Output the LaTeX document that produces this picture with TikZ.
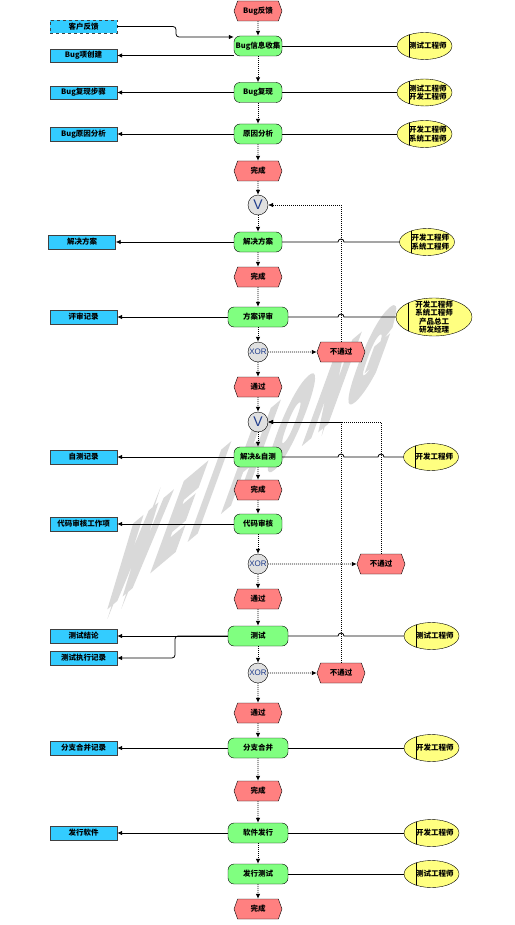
\documentclass[tikz,border=0pt]{standalone}
\usepackage{fontspec}
\setmainfont{Noto Sans CJK SC}
\newfontfamily\lat{Liberation Sans}
\newfontfamily\wmfont[FakeBold=13]{Liberation Sans Bold}
\usetikzlibrary{shapes.geometric,shapes.symbols,arrows.meta,calc}

\definecolor{ereignisrot}{HTML}{FF8080}
\definecolor{funktionsgruen}{HTML}{80FF80}
\definecolor{dokublau}{HTML}{33CCFF}
\definecolor{rollengelb}{HTML}{FFFF80}
\definecolor{verknblau}{HTML}{1F3C8C}

\begin{document}
\begin{tikzpicture}[x=1pt,y=-1pt,
    font=\fontsize{7.5}{8.5}\selectfont\bfseries,
    ereignis/.style={signal, signal to=east and west, signal pointer angle=140,
        draw, fill=ereignisrot, minimum width=48pt, minimum height=20pt, inner sep=0pt},
    funktion/.style={rectangle, rounded corners=6pt, draw, fill=funktionsgruen,
        minimum width=48pt, minimum height=20pt, inner sep=1pt},
    breit/.style={minimum width=60pt},
    dokument/.style={rectangle, draw=black!75, fill=dokublau,
        minimum width=67pt, minimum height=13.5pt, inner sep=1pt},
    rolle/.style={ellipse, draw, fill=rollengelb, minimum width=55pt, minimum height=27pt,
        inner ysep=0pt, inner xsep=-3pt, text width=44pt, align=right,
        path picture={\draw ([xshift=12pt]path picture bounding box.north west)
            -- ([xshift=12pt]path picture bounding box.south west);}},
    verkn/.style={circle, draw, fill=black!12, minimum size=20pt, inner sep=0pt,
        text=verknblau, font=\lat\fontsize{8}{8}\selectfont},
    fluss/.style={dash pattern=on 1pt off 1pt, line width=0.8pt, -{Latex[length=5pt,width=4.5pt]}},
    zuord/.style={line width=0.8pt},
    ausgabe/.style={line width=0.8pt, -{Latex[length=5pt,width=4.5pt]}}]
            % Rahmen
            \path[fill=white] (0,0) rectangle (514,925);
            % Wasserzeichen
            \node[font=\wmfont\fontsize{10}{10}\selectfont, text=black!15, inner sep=0pt,
                cm={3.677,3.086,4.104,11.276,(0,0)}] (wz) at (253,455)
                {W\kern.35em E\kern.35em I\kern.35em\ H\kern.35em O\kern.35em N\kern.35em G};
            % Ereignisse
            \node[ereignis] (fb) at (258,11) {Bug反馈};
            \node[ereignis] (e1) at (258,171) {完成};
            \node[ereignis] (e2) at (258,277) {完成};
            \node[ereignis] (e3) at (258,387) {通过};
            \node[ereignis] (e4) at (258,490) {完成};
            \node[ereignis] (e5) at (258,599) {通过};
            \node[ereignis] (e6) at (258,713) {通过};
            \node[ereignis] (e7) at (258,791) {完成};
            \node[ereignis] (e8) at (258,909) {完成};
            \node[ereignis] (n1) at (341,352) {不通过};
            \node[ereignis] (n2) at (381,564) {不通过};
            \node[ereignis] (n3) at (341,673) {不通过};
            % Funktionen
            \node[funktion] (s1) at (258,46) {Bug信息收集};
            \node[funktion] (s2) at (258,92.5) {Bug复现};
            \node[funktion] (s3) at (258,134) {原因分析};
            \node[funktion] (s4) at (258,242) {解决方案};
            \node[funktion,breit] (s5) at (258,317) {方案评审};
            \node[funktion] (s6) at (258,457) {解决\&自测};
            \node[funktion] (s7) at (258,524) {代码审核};
            \node[funktion,breit] (s8) at (258,636) {测试};
            \node[funktion,breit] (s9) at (258,748) {分支合并};
            \node[funktion,breit] (s10) at (258,833) {软件发行};
            \node[funktion,breit] (s11) at (258,874) {发行测试};
            % Verknuepfungen
            \node[verkn,font=\lat\fontsize{14}{14}\selectfont] (v1) at (258,205) {V};
            \node[verkn,font=\lat\fontsize{14}{14}\selectfont] (v2) at (258,422) {V};
            \node[verkn] (x1) at (258,352) {XOR};
            \node[verkn] (x2) at (258,564) {XOR};
            \node[verkn] (x3) at (258,673) {XOR};
            % Dokumente
            \node[dokument,dashed] (kh) at (83.5,26.5) {客户反馈};
            \node[dokument] (d1) at (83.5,55.5) {Bug项创建};
            \node[dokument] (d2) at (83.5,92.5) {Bug复现步骤};
            \node[dokument] (d3) at (83.5,134) {Bug原因分析};
            \node[dokument] (d4) at (82,242) {解决方案};
            \node[dokument] (d5) at (83.5,317) {评审记录};
            \node[dokument] (d6) at (83.5,457) {自测记录};
            \node[dokument] (d7) at (83.5,524) {代码审核工作项};
            \node[dokument] (d8) at (83.5,636) {测试结论};
            \node[dokument] (d9) at (83.5,658) {测试执行记录};
            \node[dokument] (d10) at (83.5,748) {分支合并记录};
            \node[dokument] (d11) at (83.5,833) {发行软件};
            % Rollen
            \node[rolle] (r1) at (424.5,46) {测试工程师};
            \node[rolle] (r2) at (424.5,92.5) {测试工程师\\开发工程师};
            \node[rolle] (r3) at (424.5,134) {开发工程师\\系统工程师};
            \node[rolle] (r4) at (427,242) {开发工程师\\系统工程师};
            \node[rolle,minimum width=76pt,minimum height=38pt,inner ysep=-4pt,
                text width=50pt,align=center] (r5) at (434,317)
                {开发工程师\\系统工程师\\产品总工\\研发经理};
            \node[rolle] (r6) at (431,457) {开发工程师};
            \node[rolle] (r8) at (431.5,636) {测试工程师};
            \node[rolle] (r9) at (431.5,748) {开发工程师};
            \node[rolle] (r10) at (431.5,833) {开发工程师};
            \node[rolle] (r11) at (431.5,874) {测试工程师};
            % Kontrollfluss
            \foreach \a/\b in {fb/s1,s1/s2,s2/s3,s3/e1,e1/v1,v1/s4,s4/e2,e2/s5,s5/x1,x1/e3,
                e3/v2,v2/s6,s6/e4,e4/s7,s7/x2,x2/e5,e5/s8,s8/x3,x3/e6,e6/s9,s9/e7,e7/s10,
                s10/s11,s11/e8}
                \draw[fluss] (\a) -- (\b);
            \foreach \x/\n in {x1/n1,x2/n2,x3/n3}
                \draw[fluss] (\x) -- (\n);
            % Ruecksprung
            \draw[fluss,line width=0.6pt] (n1) |- (v1);
            \draw[fluss,line width=0.6pt] (n2) |- (v2);
            \draw[fluss,line width=0.6pt] (n3) |- (v2);
            % Rollen zuordnen
            \foreach \s/\r in {s1/r1,s2/r2,s3/r3,s9/r9,s10/r10,s11/r11}
                \draw[zuord] (\s) -- (\r);
            \draw[zuord] (s4) -- ($(s4 -| n1)+(-3,0)$) arc[start angle=180,end angle=360,radius=3] -- (r4);
            \draw[zuord] (s5) -- ($(s5 -| n1)+(-3,0)$) arc[start angle=180,end angle=360,radius=3] -- (r5);
            \draw[zuord] (s6) -- ($(s6 -| n1)+(-3,0)$) arc[start angle=180,end angle=360,radius=3]
                -- ($(s6 -| n2)+(-3,0)$) arc[start angle=180,end angle=360,radius=3] -- (r6);
            \draw[zuord] (s8) -- ($(s8 -| n3)+(-3,0)$) arc[start angle=180,end angle=360,radius=3] -- (r8);
            % Ausgaben
            \coordinate (kbend) at (176,37);
            \draw[ausgabe,rounded corners=3pt] (kh.east) -| (kbend) -- (kbend -| s1.west);
            \draw[ausgabe] (s1.west |- d1.east) -- (d1.east);
            \foreach \s/\d in {s2/d2,s3/d3,s4/d4,s5/d5,s6/d6,s7/d7,s8/d8,s9/d10,s10/d11}
                \draw[ausgabe] (\s) -- (\d);
            \coordinate (tbend) at (175,658);
            \draw[ausgabe,rounded corners=3pt] (s8.west) -| (tbend) -- (d9.east);
\end{tikzpicture}
\end{document}
